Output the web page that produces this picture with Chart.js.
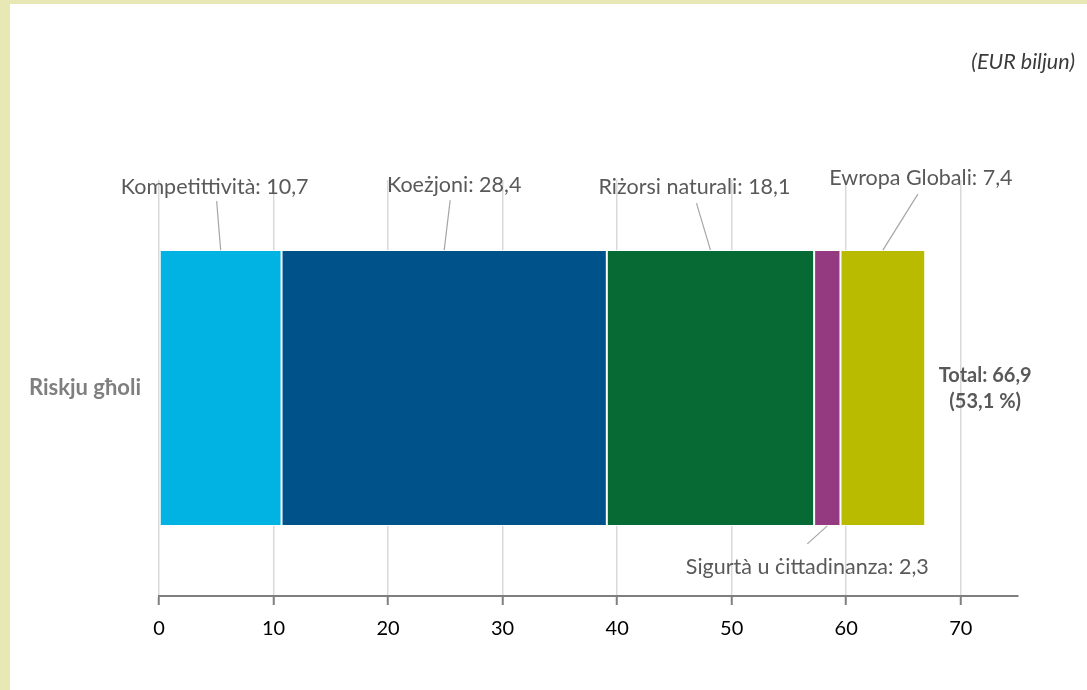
<!DOCTYPE html>
<html>
<head>
<meta charset="utf-8">
<script src="https://cdn.jsdelivr.net/npm/chart.js@4"></script>
<style>
body { margin: 0; background: #e8e8b4; }
#wrap { position: absolute; left: 10px; top: 4px; width: 1077px; height: 686px; background: #fff; }
</style>
</head>
<body>
<div id="wrap"><canvas id="barChart" width="1077" height="686"></canvas></div>
<script>
var categories = ["Riskju għoli"];
var seriesNames = ["Kompetittività", "Koeżjoni", "Riżorsi naturali", "Sigurtà u ċittadinanza", "Ewropa Globali"];
var seriesValues = [10.7, 28.4, 18.1, 2.3, 7.4];
var seriesColors = ["#00b3e3", "#00538a", "#076a35", "#933a80", "#b9bb00"];
var totalShare = 53.1;
var xTicks = [0, 10, 20, 30, 40, 50, 60, 70];
var unitLabel = "(EUR biljun)";

// where each label sits, relative to the middle of its bar segment
var labelPlacement = [
    { side: "top", dx: -6, dy: -63, lx: -4, ly: -49 },
    { side: "top", dx: 10, dy: -65, lx: 6, ly: -50 },
    { side: "top", dx: -16, dy: -63, lx: -14, ly: -47 },
    { side: "bottom", dx: -20, dy: 41, lx: -20, ly: 18 },
    { side: "top", dx: 38, dy: -72, lx: 35, ly: -56 }
];

function fmt(v) {
    return v.toFixed(1).replace(".", ",");
}

var datasets = seriesNames.map(function(name, i) {
    return {
        label: name,
        data: [seriesValues[i]],
        backgroundColor: seriesColors[i],
        borderColor: "#ffffff",
        borderWidth: 1,
        borderSkipped: false,
        barPercentage: 0.663,
        categoryPercentage: 1
    };
});

var labelsPlugin = {
    id: "barLabels",
    afterDatasetsDraw: function(chart) {
        var ctx = chart.ctx;
        ctx.save();
        ctx.textAlign = "center";
        ctx.textBaseline = "middle";

        // segment labels with leader lines
        chart.data.datasets.forEach(function(ds, i) {
            var bar = chart.getDatasetMeta(i).data[0];
            var p = labelPlacement[i];
            var cx = (bar.x + bar.base) / 2;
            var edge = p.side === "top" ? bar.y - bar.height / 2 : bar.y + bar.height / 2;
            ctx.strokeStyle = "#a6a6a6";
            ctx.lineWidth = 1.2;
            ctx.beginPath();
            ctx.moveTo(cx, edge);
            ctx.lineTo(cx + p.lx, edge + p.ly);
            ctx.stroke();
            ctx.fillStyle = "#595959";
            ctx.font = "21.5px Lato";
            ctx.fillText(ds.label + ": " + fmt(ds.data[0]), cx + p.dx, edge + p.dy);
        });

        // total at the end of the stack
        var last = chart.getDatasetMeta(chart.data.datasets.length - 1).data[0];
        var total = seriesValues.reduce(function(a, b) { return a + b; }, 0);
        ctx.fillStyle = "#595959";
        ctx.font = "bold 20px Lato";
        ctx.fillText("Total: " + fmt(total), last.x + 60, last.y - 12);
        ctx.fillText("(" + fmt(totalShare) + " %)", last.x + 60, last.y + 14);

        // unit note, top right
        ctx.textAlign = "right";
        ctx.fillStyle = "#3a3a3a";
        ctx.font = "italic 21.5px Lato";
        ctx.fillText(unitLabel, chart.width - 12, 58);
        ctx.restore();
    }
};

Chart.defaults.font.family = "Lato";

var ctx1 = document.getElementById("barChart").getContext("2d");
var myChart = new Chart(ctx1, {
    type: "bar",
    data: {
        labels: categories,
        datasets: datasets
    },
    options: {
        indexAxis: "y",
        responsive: false,
        animation: false,
        layout: {
            padding: { left: 0, right: 69, top: 176, bottom: 0 }
        },
        plugins: {
            legend: { display: false },
            tooltip: { enabled: false }
        },
        scales: {
            x: {
                stacked: true,
                min: 0,
                max: 75,
                afterBuildTicks: function(scale) {
                    scale.ticks = xTicks.map(function(v) { return { value: v }; });
                },
                afterFit: function(scale) {
                    scale.height = 94;
                },
                ticks: {
                    color: "#000000",
                    font: { size: 20 },
                    padding: 12,
                    maxRotation: 0
                },
                grid: {
                    color: "#d9d9d9",
                    lineWidth: 1.5,
                    drawTicks: true,
                    tickLength: 9,
                    tickColor: "#7f7f7f",
                    tickWidth: 2
                },
                border: {
                    display: true,
                    color: "#7f7f7f",
                    width: 2
                }
            },
            y: {
                stacked: true,
                afterFit: function(scale) {
                    scale.width = 149;
                },
                ticks: {
                    color: "#7f7f7f",
                    font: { size: 22, weight: "bold" },
                    padding: 18
                },
                grid: {
                    display: false,
                    drawTicks: false
                },
                border: { display: false }
            }
        }
    },
    plugins: [labelsPlugin]
});
</script>
</body>
</html>
